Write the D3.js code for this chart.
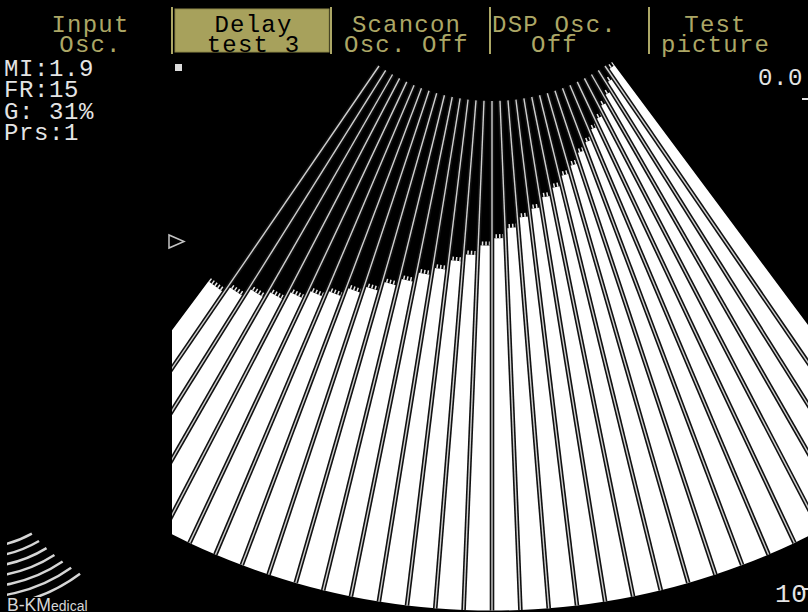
<!DOCTYPE html>
<html>
<head>
<meta charset="utf-8">
<script src="https://cdn.jsdelivr.net/npm/d3@7/dist/d3.min.js"></script>
<style>
  html, body { margin: 0; padding: 0; background: #000; overflow: hidden; }
</style>
</head>
<body>
<div id="d3-container"></div>
<script>
// soft keys along the top
var menuLine1 = ["Input", "Delay", "Scancon", "DSP Osc.", "Test"];
var menuLine2 = ["Osc.", "test 3", "Osc. Off", "Off", "picture"];
var activeMenu = 1;

// readouts on the left
var statusLabels = ["MI:1.9", "FR:15", "G: 31%", "Prs:1"];

// depth scale marks on the right (cm)
var depthTicks = [0, 10];
var depthLabels = ["0.0", "10"];

// depth (cm) where each sector turns white, left to right
var sectorDepths = [5.6, 5.45, 5.25, 5.1, 4.9, 4.7, 4.55, 4.35, 4.2, 4.0, 3.85, 3.65,
                    3.5, 3.3, 3.15, 2.95, 2.8, 2.6, 2.4, 2.25, 2.05, 1.9, 1.7, 1.55,
                    1.35, 1.2, 1.0, 0.85, 0.65, 0.5, 0.3, 0.1];

var width = 808, height = 612;
var apex = [492, -99];
var maxDepth = 10.4;

var svg = d3.select("#d3-container")
  .append("svg")
    .attr("width", width)
    .attr("height", height)
    .style("display", "block")
    .style("background", "#000");

var rad = function(deg) { return deg * Math.PI / 180; };

var angle = d3.scaleLinear()
  .domain([0, sectorDepths.length])
  .range([-36.7, 36.7]);

var depth = d3.scaleLinear()
  .domain([0, 10])
  .range([200, 690]);

svg.append("clipPath")
    .attr("id", "scan")
  .append("rect")
    .attr("x", 172)
    .attr("y", 0)
    .attr("width", width - 172)
    .attr("height", height);

var fan = svg.append("g")
    .attr("clip-path", "url(#scan)")
  .append("g")
    .attr("transform", "translate(" + apex[0] + "," + apex[1] + ")");

// white echo in each sector
var arc = d3.arc();
fan.append("g")
  .selectAll("path")
  .data(sectorDepths)
  .enter()
  .append("path")
    .attr("d", function(d, i) {
      return arc({
        innerRadius: depth(d),
        outerRadius: depth(maxDepth),
        startAngle: Math.PI - rad(angle(i + 1)),
        endAngle: Math.PI - rad(angle(i))
      });
    })
    .attr("fill", "#fff");

// ragged leading edge of the echo
fan.append("g")
  .selectAll("path")
  .data(sectorDepths)
  .enter()
  .append("path")
    .attr("d", function(d, i) {
      var r = depth(d) - 2;
      var a0 = Math.PI / 2 - rad(angle(i)), a1 = Math.PI / 2 - rad(angle(i + 1));
      var p = d3.path();
      p.moveTo(r * Math.cos(a0), r * Math.sin(a0));
      p.arc(0, 0, r, a0, a1, true);
      return p.toString();
    })
    .attr("fill", "none")
    .attr("stroke", "#e8e8e8")
    .attr("stroke-width", 4)
    .attr("stroke-dasharray", "1.5,2");

// scan lines on the sector borders
var beams = d3.range(1, sectorDepths.length);
var beam = d3.lineRadial()
  .angle(function(d) { return Math.PI - rad(d[0]); })
  .radius(function(d) { return depth(d[1]); });

var beamPath = function(k) { return beam([[angle(k), 0], [angle(k), maxDepth]]); };

fan.append("g")
  .selectAll("path")
  .data(beams)
  .enter()
  .append("path")
    .attr("d", beamPath)
    .attr("stroke", "#111")
    .attr("stroke-width", 4.6)
    .attr("fill", "none");

fan.append("g")
  .selectAll("path")
  .data(beams)
  .enter()
  .append("path")
    .attr("d", beamPath)
    .attr("stroke", "#cfcfcf")
    .attr("stroke-width", 1.4)
    .attr("fill", "none");

// top soft keys
var menuX = d3.scaleBand()
  .domain(d3.range(menuLine1.length))
  .range([13, 808]);
var menuNudge = [-2, 2, -4, -15, -13];
var olive = "#aca766";

svg.append("rect")
    .attr("x", menuX(activeMenu) + 3)
    .attr("y", 9)
    .attr("width", menuX.bandwidth() - 5)
    .attr("height", 43)
    .attr("fill", "#a7a15c")
    .attr("stroke", "#8d8848");

svg.append("g")
  .selectAll("line")
  .data(d3.range(1, menuLine1.length))
  .enter()
  .append("line")
    .attr("x1", function(d) { return menuX(d); })
    .attr("x2", function(d) { return menuX(d); })
    .attr("y1", 7)
    .attr("y2", 54)
    .attr("stroke", olive)
    .attr("stroke-width", 2);

// each key is one text with two lines
var keys = svg.append("g")
  .style("font-family", "'Liberation Mono', monospace")
  .style("font-size", "24px")
  .style("letter-spacing", "1.2px")
  .attr("text-anchor", "middle")
  .selectAll("text")
  .data(menuLine1)
  .enter()
  .append("text")
    .attr("fill", function(d, i) { return i === activeMenu ? "#000" : olive; });

keys.append("tspan")
    .attr("x", function(d, i) { return menuX(i) + menuX.bandwidth() / 2 + menuNudge[i]; })
    .attr("y", 32)
    .text(function(d) { return d; });
keys.append("tspan")
    .attr("x", function(d, i) { return menuX(i) + menuX.bandwidth() / 2 + menuNudge[i]; })
    .attr("y", 52)
    .text(function(d, i) { return menuLine2[i]; });

// left readouts
svg.append("g")
  .selectAll("text")
  .data(statusLabels)
  .enter()
  .append("text")
    .attr("x", 4)
    .attr("y", function(d, i) { return 76 + i * 21.4; })
    .attr("fill", "#e4e4e4")
    .style("font-family", "'Liberation Mono', monospace")
    .style("font-size", "24px")
    .style("letter-spacing", "0.6px")
    .text(function(d) { return d; });

// focus marker and small square
svg.append("rect")
    .attr("x", 175).attr("y", 64)
    .attr("width", 7).attr("height", 7)
    .attr("fill", "#dcdcdc");

svg.append("path")
    .attr("d", "M169,235 L169,248 L184,241.5 Z")
    .attr("fill", "none")
    .attr("stroke", "#c4c4c4")
    .attr("stroke-width", 1.5);

// depth scale on the right edge
var depthY = function(d) { return apex[1] + depth(d); };
svg.append("g")
  .selectAll("line")
  .data(depthTicks)
  .enter()
  .append("line")
    .attr("x1", 802).attr("x2", 808)
    .attr("y1", function(d) { return depthY(d) - 2; })
    .attr("y2", function(d) { return depthY(d) - 2; })
    .attr("stroke", "#e0e0e0")
    .attr("stroke-width", 2);

svg.append("g")
  .selectAll("text")
  .data(depthLabels)
  .enter()
  .append("text")
    .attr("x", function(d, i) { return i === 0 ? 758 : 775; })
    .attr("y", function(d, i) { return i === 0 ? 85 : 602; })
    .attr("fill", "#e4e4e4")
    .style("font-family", "'Liberation Mono', monospace")
    .style("font-size", function(d, i) { return i === 0 ? "24px" : "26px"; })
    .style("letter-spacing", "0.6px")
    .text(function(d) { return d; });

// B-K Medical logo
svg.append("clipPath")
    .attr("id", "logoClip")
  .append("rect")
    .attr("x", 7).attr("y", 520)
    .attr("width", 100).attr("height", 77);
var logo = svg.append("g").attr("clip-path", "url(#logoClip)");

logo.selectAll("path")
  .data(d3.range(7))
  .enter()
  .append("path")
    .attr("d", function(i) {
      var r = 107 + i * 10;
      var a1 = rad(61 - i * 1.3);
      var p = d3.path();
      p.moveTo(-20 + r * Math.cos(rad(100)), 440 + r * Math.sin(rad(100)));
      p.arc(-20, 440, r, rad(100), a1, true);
      return p.toString();
    })
    .attr("fill", "none")
    .attr("stroke", "#d6d6d6")
    .attr("stroke-width", 2.5);

var logoText = svg.append("text")
    .attr("x", 7)
    .attr("y", 611)
    .attr("fill", "#d6d6d6")
    .style("font-family", "'Liberation Sans', sans-serif");
logoText.append("tspan")
    .style("font-size", "19px")
    .attr("textLength", 44)
    .attr("lengthAdjust", "spacingAndGlyphs")
    .text("B-KM");
logoText.append("tspan")
    .style("font-size", "14px")
    .text("edical");
</script>
</body>
</html>
